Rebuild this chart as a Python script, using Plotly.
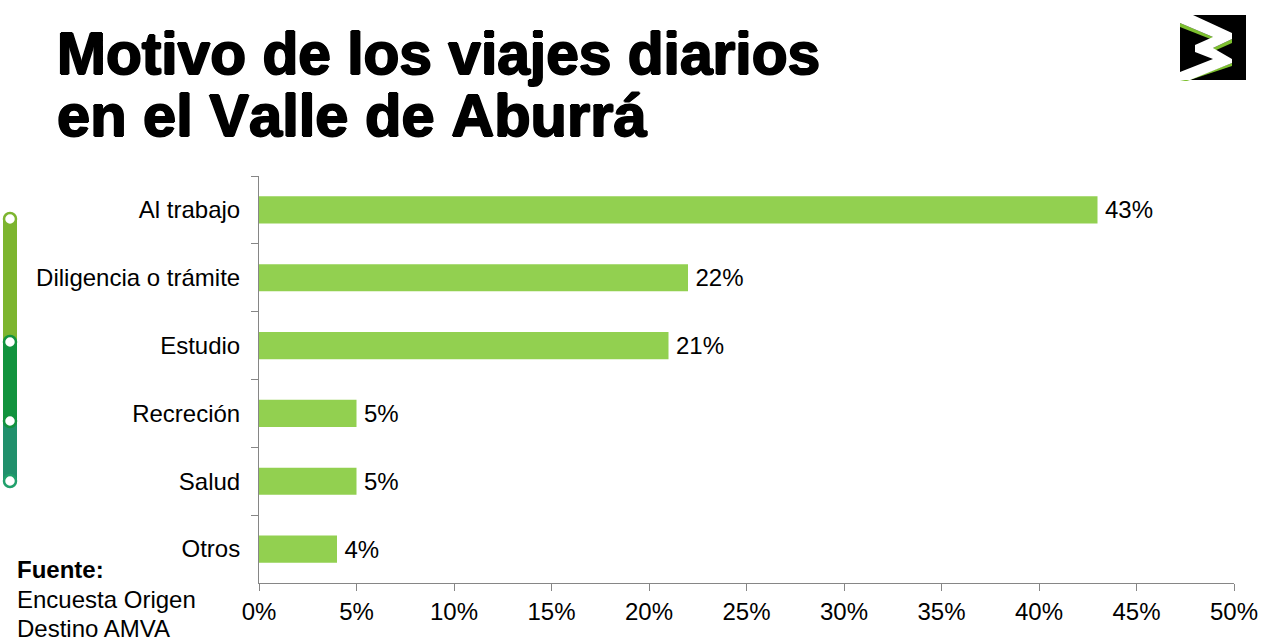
import plotly.graph_objects as go

categories = ["Al trabajo", "Diligencia o trámite", "Estudio", "Recreción", "Salud", "Otros"]
values = [43, 22, 21, 5, 5, 4]
x_ticks = [0, 5, 10, 15, 20, 25, 30, 35, 40, 45, 50]
title_lines = ["Motivo de los viajes diarios", "en el Valle de Aburrá"]
BAR = "#92D050"
FONT = "Liberation Sans, Arial, sans-serif"
W, H = 1266, 643
L, R, T, B = 259, 32, 176, 60
PW, PH = W - L - R, H - T - B

def px(x):
    return (x - L) / PW

def py(y):
    return 1 - (y - T) / PH

def path(points):
    return "M " + " L ".join(f"{px(x):.5f},{py(y):.5f}" for x, y in points) + " Z"

fig = go.Figure(go.Bar(
    y=categories, x=values, orientation="h", width=0.4,
    marker=dict(color=BAR, line=dict(width=0)),
    text=[f"<span style='font-size:16px'>\u00a0</span>{v}%" for v in values],
    textposition="outside", cliponaxis=False,
    textfont=dict(family=FONT, size=24, color="black"),
    hoverinfo="skip",
))

shapes = []
# left rail
for (y0, y1, col) in [(219, 342, "#7DB52F"), (342, 421, "#12933E"), (421, 481, "#21906C")]:
    shapes.append(dict(type="line", xref="paper", yref="paper", x0=px(10), x1=px(10), y0=py(y0), y1=py(y1),
                       line=dict(color=col, width=14)))
for (y, col) in [(219, "#7DB52F"), (342, "#12933E"), (421, "#12933E"), (481, "#21A06C")]:
    r = 6
    shapes.append(dict(type="circle", xref="paper", yref="paper", x0=px(10 - r), x1=px(10 + r),
                       y0=py(y - r), y1=py(y + r), fillcolor="white", line=dict(color=col, width=2.5)))
# logo
logo_box = [(1180, 15), (1246, 15), (1246, 80), (1180, 80)]
shapes.append(dict(type="path", xref="paper", yref="paper", path=path(logo_box),
                   fillcolor="black", line=dict(width=0)))
logo_green = [
    [(1180, 23), (1213, 37), (1213, 40), (1180, 27)],
    [(1232, 39), (1232, 43), (1214, 51), (1213, 48)],
    [(1232, 63), (1232, 66), (1187, 81), (1180, 81), (1190, 79)],
]
for part in logo_green:
    shapes.append(dict(type="path", xref="paper", yref="paper", path=path(part), fillcolor="#7DC02F", line=dict(width=0)))
logo_white = [(1180, 15), (1193, 15), (1232, 33), (1232, 39), (1213, 48), (1232, 59), (1232, 63), (1190, 80),
              (1180, 80), (1180, 72), (1213, 59), (1195, 52), (1195, 45), (1213, 37), (1180, 23)]
shapes.append(dict(type="path", xref="paper", yref="paper", path=path(logo_white), fillcolor="white", line=dict(width=0)))

annotations = []
heavy = "1px 0 0 #000,-1px 0 0 #000,0 1px 0 #000,0 -1px 0 #000"
for line, yc, size in zip(title_lines, [53, 116], [58.7, 59.6]):
    annotations.append(dict(text=f"<b style='font-kerning:none'>{line}</b>", xref="paper", yref="paper", x=px(55), y=py(yc),
                            xanchor="left", yanchor="middle", showarrow=False,
                            font=dict(family=FONT, size=size, color="black", shadow=heavy)))
for text, yc in [("<b>Fuente:</b>", 569), ("Encuesta Origen", 599), ("Destino AMVA", 628)]:
    annotations.append(dict(text=text, xref="paper", yref="paper", x=px(15), y=py(yc),
                            xanchor="left", yanchor="middle", showarrow=False,
                            font=dict(family=FONT, size=24, color="black")))

fig.update_layout(
    width=W, height=H, margin=dict(l=L, r=R, t=T, b=B, pad=0, autoexpand=False),
    paper_bgcolor="white", plot_bgcolor="white", showlegend=False,
    font=dict(family=FONT, size=24, color="black"),
    shapes=shapes, annotations=annotations,
    xaxis=dict(range=[0, 50], tickvals=x_ticks, ticktext=[f"{t}%" for t in x_ticks],
               showgrid=False, zeroline=False, showline=True, linecolor="#868686", linewidth=1,
               ticks="outside", ticklen=7, tickcolor="#868686", tickwidth=1,
               tickfont=dict(family=FONT, size=24, color="black")),
    yaxis=dict(categoryorder="array", categoryarray=categories, autorange="reversed",
               showgrid=False, zeroline=False, showline=True, linecolor="#868686", linewidth=1,
               ticks="outside", ticklen=7, tickcolor="#868686", tickwidth=1, tickson="boundaries",
               ticklabelstandoff=13,
               tickfont=dict(family=FONT, size=24, color="black")),
)
fig.write_html("out.html", config=dict(displayModeBar=False), post_script="document.body.style.margin='0';")
